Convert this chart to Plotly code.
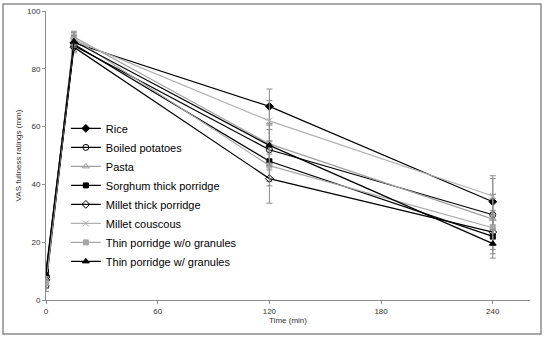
import plotly.graph_objects as go

time_min = [0, 15, 120, 240]
series_names = ["Rice", "Boiled potatoes", "Pasta", "Sorghum thick porridge",
                "Millet thick porridge", "Millet couscous",
                "Thin porridge w/o granules", "Thin porridge w/ granules"]
rice = [8, 89, 67, 34]
boiled_potatoes = [5, 88, 52, 29.5]
pasta = [7, 91, 54, 28]
sorghum_thick = [10, 88.5, 48, 22]
millet_thick = [7, 87.5, 42, 23.5]
millet_couscous = [7, 90, 62, 36]
thin_wo = [6, 90.5, 46.5, 25]
thin_w = [9, 89.5, 53.5, 19.5]

rice_err = [2, 2, 6, 8]
boiled_potatoes_err = [2, 2, 7, 7]
pasta_err = [2, 2, 7, 7]
sorghum_thick_err = [2, 2, 7, 6]
millet_thick_err = [2, 2, 8.5, 6]
millet_couscous_err = [2, 2, 7, 7]
thin_wo_err = [2, 2, 7, 6]
thin_w_err = [2, 2, 7, 5]

values = [rice, boiled_potatoes, pasta, sorghum_thick, millet_thick,
          millet_couscous, thin_wo, thin_w]
errors = [rice_err, boiled_potatoes_err, pasta_err, sorghum_thick_err,
          millet_thick_err, millet_couscous_err, thin_wo_err, thin_w_err]

styles = [
    dict(color="#000000", symbol="diamond", size=6),
    dict(color="#000000", symbol="circle-open", size=6),
    dict(color="#a0a0a0", symbol="triangle-up-open", size=6),
    dict(color="#000000", symbol="square", size=5),
    dict(color="#000000", symbol="diamond-open", size=6),
    dict(color="#b0b0b0", symbol="x-thin-open", size=6),
    dict(color="#a6a6a6", symbol="square", size=5),
    dict(color="#000000", symbol="triangle-up", size=6),
]

L, R, T, B = 46, 20, 11, 39
W, H = 550, 339

fig = go.Figure()
for name, ys, es, st in zip(series_names, values, errors, styles):
    marker = dict(symbol=st["symbol"], size=st["size"], color=st["color"],
                  line=dict(color=st["color"], width=1))
    fig.add_trace(go.Scatter(
        x=time_min, y=ys, name=name, mode="lines+markers",
        line=dict(color=st["color"], width=1.2),
        marker=marker,
        error_y=dict(type="data", array=es, visible=True, color="#8c8c8c",
                     thickness=1, width=3),
    ))

fig.update_layout(
    width=W, height=H,
    margin=dict(l=L, r=R, t=T, b=B, autoexpand=False),
    paper_bgcolor="white", plot_bgcolor="white",
    font=dict(family="Liberation Sans, Arial, sans-serif", color="#333333"),
    showlegend=True,
    legend=dict(x=0.041, y=0.644, xanchor="left", yanchor="top",
                bgcolor="rgba(0,0,0,0)", font=dict(size=11, color="#000000"),
                itemwidth=30, tracegroupgap=0),
    xaxis=dict(range=[0, 260], tickvals=[0, 60, 120, 180, 240], automargin=False,
               showgrid=False, zeroline=False, showline=True,
               linecolor="#8c8c8c", linewidth=1, ticks="outside",
               ticklen=3, tickcolor="#8c8c8c",
               tickfont=dict(size=8, color="#333333"),
               title=dict(text="Time (min)", font=dict(size=8, color="#333333"),
                          standoff=0)),
    yaxis=dict(range=[0, 100], tickvals=[0, 20, 40, 60, 80, 100], automargin=False,
               showgrid=False, zeroline=False, showline=True,
               linecolor="#8c8c8c", linewidth=1, ticks="outside",
               ticklen=3, tickcolor="#8c8c8c",
               tickfont=dict(size=8, color="#333333"),
               title=dict(text="VAS fullness ratings (mm)",
                          font=dict(size=8, color="#333333"), standoff=4)),
)

# outer border around the chart (paper coordinates extended beyond plot area)
pw = W - L - R
ph = H - T - B
x0 = (3 - L) / pw
x1 = (541 - L) / pw
y0 = (H - B - 334) / ph
y1 = (H - B - 4) / ph
fig.add_shape(type="rect", xref="paper", yref="paper", x0=x0, x1=x1, y0=y0, y1=y1,
              line=dict(color="#8c8c8c", width=1.5), fillcolor="rgba(0,0,0,0)",
              layer="below")

fig.write_html("out.html", config={"displayModeBar": False},
               post_script="document.body.style.margin='0';document.body.style.overflow='hidden';")
